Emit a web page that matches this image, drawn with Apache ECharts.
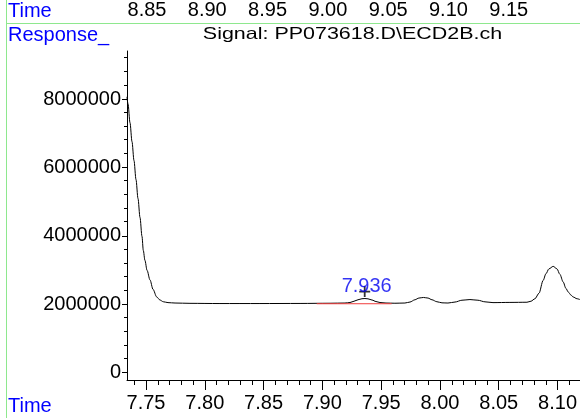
<!DOCTYPE html>
<html>
<head>
<meta charset="utf-8">
<script src="https://cdn.jsdelivr.net/npm/echarts@6/dist/echarts.min.js"></script>
<style>
  html, body { margin: 0; padding: 0; background: #fff; }
  #chart { width: 580px; height: 418px; }
</style>
</head>
<body>
<div id="chart"></div>
<script>
// Retention time (min) of each sampled point on the ECD trace
const times = [
  7.7338, 7.7347, 7.7364, 7.7381, 7.7398, 7.7415, 7.7432, 7.7449, 7.7466, 7.7477,
  7.7491, 7.7509, 7.7534, 7.7560, 7.7591, 7.7619, 7.7647, 7.7687, 7.7747, 7.7874,
  7.8129, 7.8469, 7.8810, 7.9065, 7.9192, 7.9235, 7.9269, 7.9303, 7.9337, 7.9362,
  7.9388, 7.9422, 7.9456, 7.9490, 7.9541, 7.9617, 7.9702, 7.9745, 7.9787, 7.9821,
  7.9860, 7.9898, 7.9932, 7.9974, 8.0017, 8.0068, 8.0128, 8.0187, 8.0255, 8.0323,
  8.0383, 8.0451, 8.0595, 8.0740, 8.0774, 8.0808, 8.0842, 8.0878, 8.0901, 8.0927,
  8.0963, 8.0995, 8.1020, 8.1048, 8.1071, 8.1091, 8.1114, 8.1133, 8.1165, 8.1190
];

// Detector response at each of those times
const response = [
  8074000, 7870000, 7315000, 6760000, 6205000, 5649000, 5094000, 4539000, 3983000, 3574000,
  3282000, 2990000, 2708000, 2430000, 2209000, 2119000, 2069000, 2043000, 2031000, 2022000,
  2016000, 2016000, 2019000, 2025000, 2031000, 2046000, 2084000, 2127000, 2157000, 2163000,
  2154000, 2119000, 2075000, 2046000, 2031000, 2025000, 2031000, 2060000, 2127000, 2177000,
  2194000, 2177000, 2127000, 2069000, 2037000, 2031000, 2060000, 2113000, 2133000, 2113000,
  2066000, 2043000, 2049000, 2054000, 2084000, 2157000, 2317000, 2697000, 2887000, 3033000,
  3106000, 3033000, 2873000, 2648000, 2463000, 2355000, 2265000, 2209000, 2157000, 2133000
];

// Axis ticks and labels
const timeMajor = [7.75, 7.80, 7.85, 7.90, 7.95, 8.00, 8.05, 8.10];
const timeMinor = [
  7.74, 7.76, 7.77, 7.78, 7.79, 7.81, 7.82, 7.83, 7.84, 7.86, 7.87, 7.88, 7.89,
  7.91, 7.92, 7.93, 7.94, 7.96, 7.97, 7.98, 7.99, 8.01, 8.02, 8.03, 8.04,
  8.06, 8.07, 8.08, 8.09, 8.11
];
const topTimeLabels = [8.85, 8.90, 8.95, 9.00, 9.05, 9.10, 9.15];
const responseMajor = [0, 2000000, 4000000, 6000000, 8000000];
const responseMinor = [
  400000, 800000, 1200000, 1600000, 2400000, 2800000, 3200000, 3600000,
  4400000, 4800000, 5200000, 5600000, 6400000, 6800000, 7200000, 7600000,
  8400000, 8800000, 9200000
];

// Integrated peak and its baseline
const peakTime = 7.936;
const peakResponse = 2163000;
const baselineTimes = [7.8952, 7.9589];
const baselineResponse = [2010000, 2010000];

const FONT = '"Liberation Sans", Arial, sans-serif';
const BLUE = '#0000ff';
const GREEN = '#8ee88e';

const timeRange = { min: 7.73384, max: 8.11905 };
const topRange = { min: 8.83342, max: 9.20904 };
const respRange = { min: -225000, max: 9418000 };

const gridRect = { left: 127, top: 50, right: 0, bottom: 38 };

const labelStyle = { color: '#000', fontSize: 20, fontFamily: FONT };

const chart = echarts.init(document.getElementById('chart'), null, { renderer: 'canvas' });

chart.setOption({
  animation: false,
  backgroundColor: '#fff',
  grid: [Object.assign({}, gridRect), Object.assign({}, gridRect)],
  xAxis: [
    {
      gridIndex: 0, type: 'value', position: 'bottom',
      min: timeRange.min, max: timeRange.max,
      axisLine: { show: true, onZero: false, lineStyle: { color: '#000', width: 1 } },
      axisTick: { show: true, customValues: timeMajor, length: 10, lineStyle: { color: '#000', width: 1 } },
      axisLabel: Object.assign({ customValues: timeMajor, margin: 13, formatter: v => v.toFixed(2) }, labelStyle),
      splitLine: { show: false }
    },
    {
      gridIndex: 0, type: 'value', position: 'top',
      min: topRange.min, max: topRange.max,
      axisLine: { show: false },
      axisTick: { show: false },
      axisLabel: Object.assign({ customValues: topTimeLabels, margin: 31, formatter: v => v.toFixed(2) }, labelStyle),
      splitLine: { show: false }
    },
    {
      gridIndex: 1, type: 'value', position: 'bottom',
      min: timeRange.min, max: timeRange.max,
      axisLine: { show: false, onZero: false },
      axisTick: { show: true, customValues: timeMinor, length: 5, lineStyle: { color: '#000', width: 1 } },
      axisLabel: { show: false },
      splitLine: { show: false }
    }
  ],
  yAxis: [
    {
      gridIndex: 0, type: 'value', position: 'left',
      min: respRange.min, max: respRange.max,
      axisLine: { show: true, onZero: false, lineStyle: { color: '#000', width: 1 } },
      axisTick: { show: true, customValues: responseMajor, length: 5, lineStyle: { color: '#000', width: 1 } },
      axisLabel: Object.assign({ customValues: responseMajor, margin: 6, formatter: v => String(v) }, labelStyle),
      splitLine: { show: false }
    },
    {
      gridIndex: 1, type: 'value', position: 'left',
      min: respRange.min, max: respRange.max,
      axisLine: { show: false, onZero: false },
      axisTick: { show: true, customValues: responseMinor, length: 3, lineStyle: { color: '#000', width: 1 } },
      axisLabel: { show: false },
      splitLine: { show: false }
    }
  ],
  series: [
    {
      type: 'line', xAxisIndex: 0, yAxisIndex: 0, z: 2,
      data: times.map((t, i) => [t, response[i]]),
      symbol: 'none', silent: true, smooth: 0.3, smoothMonotone: 'x',
      lineStyle: { color: '#000', width: 1 }
    },
    {
      type: 'line', xAxisIndex: 0, yAxisIndex: 0, z: 3,
      data: baselineTimes.map((t, i) => [t, baselineResponse[i]]),
      symbol: 'none', silent: true,
      lineStyle: { color: '#f03c3c', width: 1 }
    },
    {
      type: 'scatter', xAxisIndex: 0, yAxisIndex: 0, z: 4,
      data: [[peakTime, peakResponse]],
      symbol: 'path://M5,0L5,10M0,5L10,5',
      symbolSize: 11, symbolOffset: [0, -7], silent: true,
      itemStyle: { color: 'none', borderColor: '#000', borderWidth: 1.8 },
      label: {
        show: true, position: 'inside', offset: [2, -5],
        formatter: p => p.value[0].toFixed(3),
        color: '#0000f0', fontSize: 20, fontFamily: FONT
      }
    }
  ],
  graphic: [
    { type: 'line', silent: true, shape: { x1: 6.5, y1: 0, x2: 6.5, y2: 418 }, style: { stroke: GREEN, lineWidth: 1 } },
    { type: 'line', silent: true, shape: { x1: 7, y1: 23.5, x2: 580, y2: 23.5 }, style: { stroke: GREEN, lineWidth: 1 } },
    { type: 'text', silent: true, x: 8, y: 11.5,
      style: { text: 'Time', fontSize: 20, fontFamily: FONT, fill: BLUE, textAlign: 'left', textVerticalAlign: 'middle' } },
    { type: 'text', silent: true, x: 8, y: 35,
      style: { text: 'Response_', fontSize: 20, fontFamily: FONT, fill: BLUE, textAlign: 'left', textVerticalAlign: 'middle' } },
    { type: 'text', silent: true, x: 8, y: 406.7,
      style: { text: 'Time', fontSize: 20, fontFamily: FONT, fill: BLUE, textAlign: 'left', textVerticalAlign: 'middle' } },
    { type: 'text', silent: true, x: 352.5, y: 34.8, scaleX: 1.3,
      style: { text: 'Signal: PP073618.D\\ECD2B.ch', fontSize: 16.5, fontFamily: FONT, fill: '#000', textAlign: 'center', textVerticalAlign: 'middle' } }
  ]
});
</script>
</body>
</html>
